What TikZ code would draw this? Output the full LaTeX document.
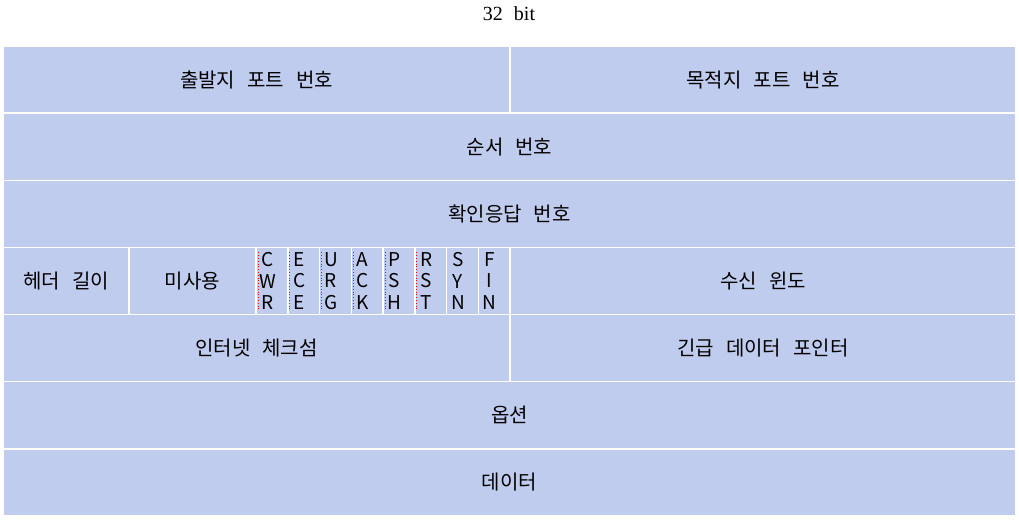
\documentclass[tikz,border=0pt]{standalone}
\usepackage{fontspec}
\setmainfont{Liberation Serif}
\newfontfamily\hangul{Noto Sans CJK KR}[WordSpace=2.7]
\usetikzlibrary{positioning}
\definecolor{cellblue}{RGB}{192,204,238}

\begin{document}
\begin{tikzpicture}[x=1pt, y=-1pt,
  field/.style={draw=white, line width=1.5pt, fill=cellblue, inner sep=0pt,
    outer sep=0pt, anchor=north west, minimum height=67.14pt,
    font=\hangul\fontsize{20}{24}\selectfont},
  flagtext/.style={align=center, inner sep=0pt,
    font=\hangul\fontsize{19}{21.5}\selectfont}]
  \useasboundingbox (0,0) rectangle (1019,519);
  \node[font=\fontsize{20}{24}\selectfont] (bits) at (509,14) {32\hspace{0.3em} bit};

  % row 1 : ports
  \node[field, minimum width=507pt] (srcport) at (3,46) {출발지 포트 번호};
  \node[field, minimum width=506pt] (dstport) at (srcport.north east) {목적지 포트 번호};
  % rows 2-3
  \node[field, minimum width=1013pt] (seqnum) at (srcport.south west) {순서 번호};
  \node[field, minimum width=1013pt] (acknum) at (seqnum.south west) {확인응답 번호};
  % row 4 : header length, flags, window
  \node[field, minimum width=126pt] (hdrlen) at (acknum.south west) {헤더 길이};
  \node[field, minimum width=127pt] (unused) at (hdrlen.north east) {미사용};
  \foreach \flagtxt [count=\i] in {{C\\W\\R},{E\\C\\E},{U\\R\\G},{A\\C\\K},
                                   {P\\S\\H},{R\\S\\T},{S\\Y\\N},{F\\I\\N}} {
    \node[field, minimum width=31.75pt] (flag\i)
      at ([xshift={(\i-1)*31.75pt}]unused.north east) {};
    \node[flagtext] (flagtxt\i) at ([xshift=11.5pt]flag\i.west) {\flagtxt};
    \ifnum\i<7
      \draw[red, dotted, line width=0.8pt]
        ([xshift=2pt, yshift=-5pt]flag\i.north west) -- ([xshift=2pt, yshift=6pt]flag\i.south west);
    \fi
  }
  \node[field, minimum width=506pt] (window) at (flag8.north east) {수신 윈도};
  % row 5 : checksum, urgent pointer
  \node[field, minimum width=507pt] (checksum) at (hdrlen.south west) {인터넷 체크섬};
  \node[field, minimum width=506pt] (urgptr) at (checksum.north east) {긴급 데이터 포인터};
  % rows 6-7
  \node[field, minimum width=1013pt] (options) at (checksum.south west) {옵션};
  \node[field, minimum width=1013pt] (payload) at (options.south west) {데이터};
\end{tikzpicture}
\end{document}
